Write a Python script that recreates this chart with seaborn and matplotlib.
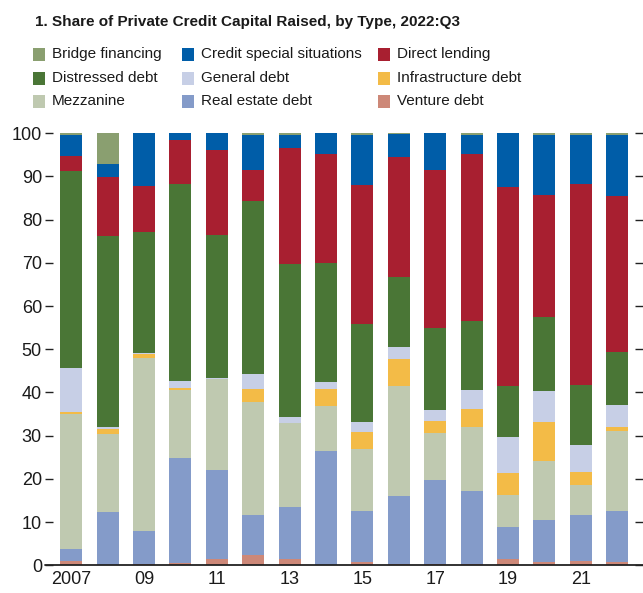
import numpy as np
import matplotlib
matplotlib.use("Agg")
import matplotlib.pyplot as plt
import seaborn as sns
from matplotlib.patches import Rectangle

# --- Data (percent of capital raised) ---
years = ["2007", "2008", "2009", "2010", "2011", "2012", "2013", "2014",
         "2015", "2016", "2017", "2018", "2019", "2020", "2021", "2022"]
tick_labels = ["2007", "", "09", "", "11", "", "13", "", "15", "", "17", "", "19", "", "21", ""]

venture_debt = [1.0, 0.0, 0.4, 0.5, 1.5, 2.3, 1.5, 0.0, 0.8, 0.4, 0.4, 0.4, 1.5, 0.8, 1.0, 0.8]
real_estate_debt = [2.8, 12.3, 7.5, 24.3, 20.6, 9.3, 12.0, 26.5, 11.8, 15.7, 19.4, 16.8, 7.4, 9.7, 10.7, 11.8]
mezzanine = [31.3, 18.1, 40.2, 15.8, 21.0, 26.2, 19.4, 10.4, 14.3, 25.5, 10.8, 14.7, 7.4, 13.6, 6.9, 18.5]
infrastructure_debt = [0.5, 1.1, 0.8, 0.4, 0.1, 2.9, 0.0, 3.9, 4.0, 6.2, 2.8, 4.3, 5.1, 9.1, 3.1, 0.8]
general_debt = [10.1, 0.4, 0.3, 1.7, 0.2, 3.6, 1.4, 1.6, 2.3, 2.7, 2.5, 4.4, 8.3, 7.1, 6.1, 5.2]
distressed_debt = [45.6, 44.3, 28.0, 45.6, 33.1, 40.0, 35.4, 27.6, 22.7, 16.2, 19.1, 16.0, 11.9, 17.2, 13.9, 12.3]
direct_lending = [3.5, 13.6, 10.7, 10.2, 19.6, 7.2, 26.9, 25.3, 32.1, 27.8, 36.6, 38.7, 46.0, 28.2, 46.6, 36.2]
credit_special = [4.9, 3.2, 12.1, 1.5, 3.9, 8.2, 2.9, 4.7, 11.6, 5.3, 8.4, 4.4, 12.4, 14.0, 11.4, 14.1]
bridge_financing = [0.3, 7.0, 0.0, 0.0, 0.0, 0.3, 0.5, 0.0, 0.4, 0.2, 0.0, 0.3, 0.0, 0.3, 0.3, 0.3]

# stacking order, bottom to top
series = [
    ("Venture debt", venture_debt, "#cd8878"),
    ("Real estate debt", real_estate_debt, "#849bc9"),
    ("Mezzanine", mezzanine, "#bfc9b0"),
    ("Infrastructure debt", infrastructure_debt, "#f3bb47"),
    ("General debt", general_debt, "#c7cfe6"),
    ("Distressed debt", distressed_debt, "#4a7636"),
    ("Direct lending", direct_lending, "#a81f30"),
    ("Credit special situations", credit_special, "#005da8"),
    ("Bridge financing", bridge_financing, "#8a9f70"),
]
colors = {name: c for name, _, c in series}

sns.set_style("white")
plt.rcParams["font.family"] = ["Liberation Sans", "DejaVu Sans"]

W, H = 643, 593
fig = plt.figure(figsize=(W / 100, H / 100), dpi=100)
ax = fig.add_axes([53 / W, 27.7 / H, 582.4 / W, 432 / H])

bottom = np.zeros(len(years))
for name, vals, col in series:
    sns.barplot(x=years, y=vals, bottom=bottom, color=col, width=0.6,
                saturation=1, linewidth=0, ax=ax)
    bottom = bottom + np.array(vals)

ax.set_xlim(-0.5, len(years) - 0.5)
ax.set_ylim(0, 100)
ax.set_xlabel("")
ax.set_ylabel("")

# y axis: ticks on both sides, labels on the left only
ax.set_yticks(np.arange(0, 101, 10))
ax.tick_params(axis="y", direction="out", length=6, width=1, color="#222222",
               labelsize=13, labelcolor="#1a1a1a", right=True, left=True,
               labelleft=True, pad=2)

# x axis: boundary ticks pointing in, labels centred under bars
ax.set_xticks(np.arange(-0.5, len(years), 1.0))
ax.set_xticklabels([])
ax.tick_params(axis="x", which="major", direction="in", length=5, width=1, color="#222222")
ax.set_xticks(np.arange(len(years)), minor=True)
ax.set_xticklabels(tick_labels, minor=True)
ax.tick_params(axis="x", which="minor", length=0, labelsize=13, labelcolor="#1a1a1a", pad=4)

for s in ["top", "left", "right", "bottom"]:
    ax.spines[s].set_visible(False)
ax.axhline(0, xmin=-0.014, xmax=1.013, color="#222222", lw=1.3, clip_on=False, zorder=5)

fig.text(35 / W, 1 - 22 / H, "1. Share of Private Credit Capital Raised, by Type, 2022:Q3",
         fontsize=11, fontweight="bold", va="center", ha="left", color="#1a1a1a")

# legend laid out by hand, three rows in the reference's reading order
legend_rows = [["Bridge financing", "Credit special situations", "Direct lending"],
               ["Distressed debt", "General debt", "Infrastructure debt"],
               ["Mezzanine", "Real estate debt", "Venture debt"]]
col_x = [33, 182, 378]
row_y = [54, 78, 101]
for r, row in enumerate(legend_rows):
    for c, name in enumerate(row):
        fig.patches.append(Rectangle((col_x[c] / W, 1 - (row_y[r] + 6.5) / H), 12 / W, 13 / H,
                                     transform=fig.transFigure, facecolor=colors[name],
                                     edgecolor="none"))
        fig.text((col_x[c] + 19) / W, 1 - row_y[r] / H, name, fontsize=11,
                 va="center", ha="left", color="#1a1a1a")

fig.savefig("out.png", dpi=100)
